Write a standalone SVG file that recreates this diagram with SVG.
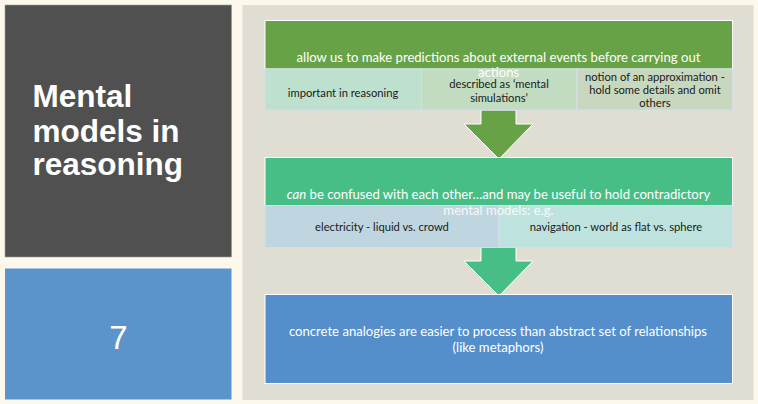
<svg xmlns="http://www.w3.org/2000/svg" width="758" height="404" viewBox="0 0 758 404">
<style>
.hdr{font-family:Lato,"Open Sans",sans-serif;font-size:13.1px;fill:#ffffff;text-anchor:middle}
.sub{font-family:Lato,"Open Sans",sans-serif;font-size:11.2px;fill:#1a1a1a;text-anchor:middle}
.box{stroke:#ffffff;stroke-width:1}
.cell{stroke:#d2dfe9;stroke-width:1}
.arrow{stroke:#ffffff;stroke-width:1}
</style>
<rect width="758" height="404" fill="#fdf8ec"/>
<g id="title">
<rect x="5" y="5" width="226.5" height="252" fill="#505050" stroke="#9a9a9a" stroke-width="0.6"/>
<text font-family="'Liberation Sans',Arial,sans-serif" font-size="31.5" font-weight="bold" fill="#ffffff"><tspan x="32.5" y="107">Mental</tspan><tspan x="32.5" y="141.5">models in</tspan><tspan x="32.5" y="175">reasoning</tspan></text>
</g>
<g id="number">
<rect x="5" y="268.5" width="226.5" height="131" fill="#5b94cb"/>
<text x="118.5" y="349" font-family="'Liberation Sans',Arial,sans-serif" font-size="33" fill="#ffffff" text-anchor="middle">7</text>
</g>
<rect x="242.5" y="5" width="511" height="395" fill="#e0ded3"/>
<g id="connectors">
<polygon class="arrow" fill="#67a346" points="481,110 516,110 516,124 533,124 499,159 464,124 481,124"/>
<polygon class="arrow" fill="#47be85" points="481,247.5 516,247.5 516,261 533,261 499,296 464,261 481,261"/>
</g>
<g id="node1">
<rect class="box" x="265" y="20.5" width="467.5" height="48.5" fill="#67a346"/>
<rect class="cell" x="265" y="69" width="156.5" height="41" fill="#bee0cf"/>
<rect class="cell" x="421.5" y="69" width="155.5" height="41" fill="#c1dcc1"/>
<rect class="cell" x="577" y="69" width="155.5" height="41" fill="#c8d8be"/>
<text class="sub" x="343" y="97">important in reasoning</text>
<text class="sub"><tspan x="499" y="87.5">described as ‘mental</tspan><tspan x="499" y="101.5">simulations’</tspan></text>
<text class="sub"><tspan x="655" y="80.5">notion of an approximation -</tspan><tspan x="655" y="94">hold some details and omit</tspan><tspan x="655" y="106.5">others</tspan></text>
<text class="hdr"><tspan x="498.5" y="62">allow us to make predictions about external events before carrying out</tspan><tspan x="498.5" y="76.5">actions</tspan></text>
</g>
<g id="node2">
<rect class="box" x="265" y="157.5" width="467.5" height="48" fill="#47be85"/>
<rect class="cell" x="265" y="205.5" width="234" height="42" fill="#bfd5df"/>
<rect class="cell" x="499" y="205.5" width="233.5" height="42" fill="#bee3df"/>
<text class="sub" x="382" y="231">electricity - liquid vs. crowd</text>
<text class="sub" x="616" y="231">navigation - world as flat vs. sphere</text>
<text class="hdr"><tspan x="498.5" y="199"><tspan font-style="italic">can</tspan> be confused with each other…and may be useful to hold contradictory</tspan><tspan x="498.5" y="215" fill-opacity="0.85">mental models: e.g.</tspan></text>
</g>
<g id="node3">
<rect class="box" x="265" y="294.5" width="467.5" height="89" fill="#548fcc"/>
<text class="hdr" font-size="12.9"><tspan x="498" y="336">concrete analogies are easier to process than abstract set of relationships</tspan><tspan x="498" y="352">(like metaphors)</tspan></text>
</g>
</svg>
